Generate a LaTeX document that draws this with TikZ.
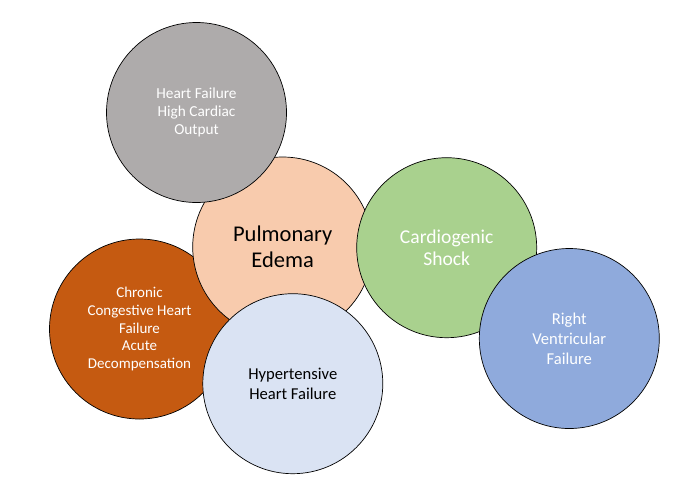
\documentclass[tikz,border=0pt]{standalone}
\usepackage{fontspec}
\setmainfont{Carlito}
\definecolor{hfgray}{HTML}{AEABAB}
\definecolor{edemapeach}{HTML}{F8CBAD}
\definecolor{shockgreen}{HTML}{A9D18E}
\definecolor{chforange}{HTML}{C55A11}
\definecolor{htnblue}{HTML}{DAE3F3}
\definecolor{rvblue}{HTML}{8FAADC}
\tikzset{
  bubble/.style={circle,draw=black,line width=0.7pt,minimum size=180pt,inner sep=0pt,align=center},
  smalltext/.style={font=\fontsize{15.3}{18.3}\selectfont},
}
\begin{document}
\begin{tikzpicture}[x=1pt,y=-1pt]
        \useasboundingbox (0,0) rectangle (688,499);
        %circles, back to front
        \node[bubble,fill=chforange,text=white,font=\fontsize{15}{17.8}\selectfont] (chf) at (139.5,329) {Chronic\\Congestive Heart\\Failure\\Acute\\Decompensation};
        \node[bubble,fill=edemapeach,text=black,font=\fontsize{22.5}{25.7}\selectfont] (edema) at (282.7,247) {Pulmonary\\Edema};
        \node[bubble,fill=hfgray,text=white,smalltext] (output) at (196.5,112.5) {Heart Failure\\High Cardiac\\Output};
        \node[bubble,fill=htnblue,text=black,font=\fontsize{16.6}{19.3}\selectfont] (htn) at (292.8,383.7) {Hypertensive\\Heart Failure};
        \node[bubble,fill=shockgreen,text=white,font=\fontsize{19.6}{22.3}\selectfont] (shock) at (446.7,247.7) {Cardiogenic\\Shock};
        \node[bubble,fill=rvblue,text=white,font=\fontsize{16.6}{20}\selectfont] (rvf) at (569.3,338.5) {Right\\Ventricular\\Failure};
\end{tikzpicture}
\end{document}
